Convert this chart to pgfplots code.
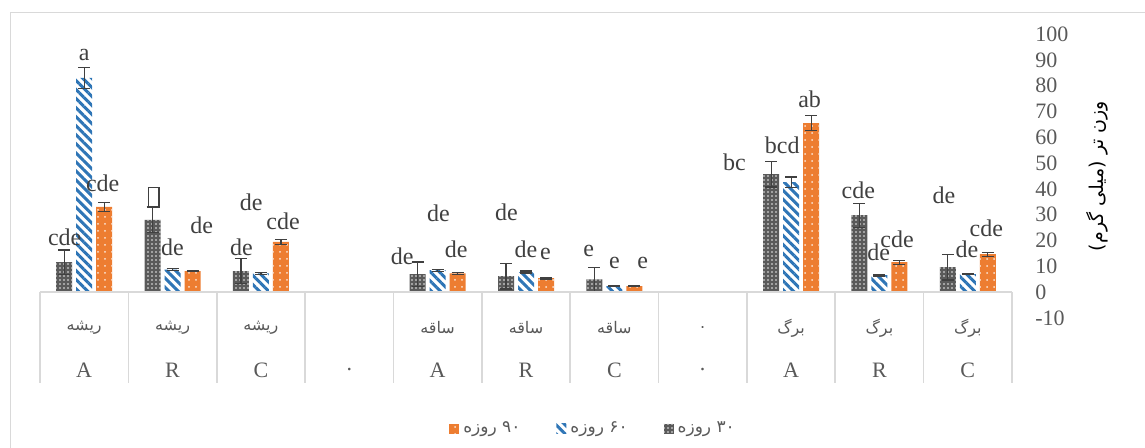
\documentclass[border=0pt]{standalone}
\usepackage{fontspec}
\setmainfont{Liberation Serif}
\newfontfamily\fa[Script=Arabic]{DejaVu Sans}
\usepackage{pgfplots}
\usepackage{pgfplotstable}
\pgfplotsset{compat=1.18}
\usetikzlibrary{patterns.meta}
\TeXXeTstate=1
\definecolor{txt}{HTML}{595959}
\definecolor{lab}{HTML}{404040}
\definecolor{sep}{HTML}{D9D9D9}
\definecolor{gbar}{HTML}{5A5A5A}
\definecolor{bbar}{HTML}{2E75B6}
\definecolor{obar}{HTML}{ED7D31}
\newcommand\emptybox{\hbox{\vrule width 0.7pt\vbox{\hrule height 0.7pt\hbox to 4.5pt{\hfil}\vskip 9pt\hrule height 0.7pt}\vrule width 0.7pt}}

\pgfplotstableread{
x g ge b be o oe
0 11.6 4.7 83 4 33 1.8
1 28 5 8.7 0.4 8.2 0.3
2 8.2 4.7 7.3 0.3 19.5 1
4 7 4.7 8.5 0.4 7.3 0.3
5 6.2 5 7.8 0.4 5.4 0.3
6 5 4.7 2.3 0.2 2.3 0.2
8 45.7 5 42.6 2 65.5 3
9 29.8 4.7 6.6 0.3 11.6 0.8
10 9.7 5 7 0.3 14.7 0.8
}\bardata

\pgfplotstableread{
x y lab
-0.22 21.3 cde
0.0 91.9 a
0.21 42.2 cde
0.79 36.8 \emptybox
1.33 26.0 de
1.0 17.4 de
1.89 34.9 de
1.78 17.4 de
2.25 27.5 cde
4.01 30.6 de
3.60 14.0 de
4.21 16.7 de
4.78 31.0 de
5.0 16.7 de
5.22 14.7 e
5.71 15.9 e
6.0 11.2 e
6.32 11.2 e
7.36 50.4 bc
7.90 57.0 bcd
8.21 74.8 ab
8.76 39.5 cde
8.99 15.5 de
9.20 20.5 cde
9.73 37.6 de
9.99 16.7 de
10.21 24.8 cde
}\labdata

\begin{document}
\begin{tikzpicture}[x=0.5pt,y=0.5pt]
\useasboundingbox (0,0) rectangle (1145,448);
\draw[sep, line width=0.8pt] (10.5,-10) -- (10.5,435.5) -- (1160,435.5);
\begin{axis}[
  at={(20pt,65pt)}, anchor=south west,
  scale only axis, width=486pt, height=142pt,
  xmin=-0.5, xmax=10.5, ymin=-10, ymax=100,
  ybar, bar width=8pt,
  clip=false,
  axis line style={draw=none},
  major tick length=0pt,
  tick style={draw=none},
  ytick={-10,0,...,100},
  yticklabel pos=right,
  /pgf/number format/assume math mode=true,
  yticklabel style={font=\fontsize{11}{13}\selectfont, text=txt, anchor=west, inner sep=0pt, xshift=11.5pt},
  every axis y label/.style={at={(axis description cs:1.0875,0.5)}, rotate=90, anchor=center, font=\fa\fontsize{9.5}{11}\selectfont, text=black},
  ylabel={\beginR وزن تر (میلی گرم)\endR},
  xtick={0,...,10},
  xticklabels={A,R,C,.,A,R,C,.,A,R,C},
  xticklabel style={font=\fontsize{11}{13}\selectfont, text=txt, anchor=center, yshift=-26pt},
  extra x ticks={0,1,2,4,5,6,7,8,9,10},
  extra x tick labels={{\fa ریشه},{\fa ریشه},{\fa ریشه},{\fa ساقه},{\fa ساقه},{\fa ساقه},.,{\fa برگ},{\fa برگ},{\fa برگ}},
  extra x tick style={xticklabel style={font=\fa\fontsize{8}{10}\selectfont, yshift=21pt}},
  legend style={at={(axis description cs:0.57,-0.39)}, anchor=center, draw=none, fill=none,
    legend columns=3, font=\fa\fontsize{8.5}{11}\selectfont, text=txt,
    /tikz/every even column/.append style={column sep=16pt}},
  reverse legend,
  legend image code/.code={\draw[#1, draw=none] (0pt,-2.5pt) rectangle (5pt,2.5pt);},
  error bars/error bar style={color=lab, line width=0.6pt},
  error bars/error mark options={color=lab, line width=0.6pt, mark size=3pt, rotate=90},
]
\addplot[bar shift=-10pt, draw=none, fill=gbar,
  postaction={pattern={Dots[distance=2pt, radius=0.45pt]}, pattern color=white!85!gray},
  error bars/.cd, y dir=both, y explicit]
  table[x=x, y=g, y error=ge] {\bardata};
\addlegendentry{\beginR ۳۰ روزه\endR}
\addplot[bar shift=0pt, draw=none, fill=white,
  postaction={pattern={Lines[angle=-45, distance=3.2pt, line width=1.5pt]}, pattern color=bbar},
  error bars/.cd, y dir=both, y explicit]
  table[x=x, y=b, y error=be] {\bardata};
\addlegendentry{\beginR ۶۰ روزه\endR}
\addplot[bar shift=10pt, draw=none, fill=obar,
  postaction={pattern={Dots[distance=3.5pt, radius=0.5pt]}, pattern color=white!80!obar},
  error bars/.cd, y dir=both, y explicit]
  table[x=x, y=o, y error=oe] {\bardata};
\addlegendentry{\beginR ۹۰ روزه\endR}
\addplot[sharp plot, bar shift=0pt, draw=none, mark=none, forget plot,
  nodes near coords, point meta=explicit symbolic,
  nodes near coords align=center,
  every node near coord/.append style={font=\fontsize{12}{14}\selectfont, text=lab, anchor=center, inner sep=0pt}]
  table[x=x, y=y, meta=lab] {\labdata};
\draw[sep, line width=0.8pt] (axis cs:-0.5,0) -- (axis cs:10.5,0);
\pgfplotsinvokeforeach{-0.5,0.5,1.5,2.5,3.5,4.5,5.5,6.5,7.5,8.5,9.5,10.5}{
  \draw[sep, line width=0.8pt] (axis cs:#1,0) -- (axis cs:#1,-35.3);
}
\end{axis}
\end{tikzpicture}
\end{document}
